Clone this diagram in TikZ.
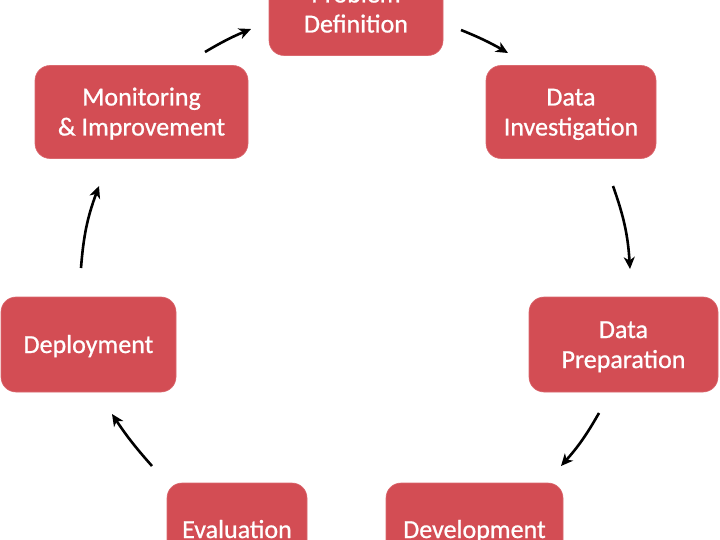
\documentclass[tikz,border=0pt]{standalone}
\usepackage{fontspec}
\setmainfont{Carlito}[FakeBold=0.8]
\usetikzlibrary{arrows.meta}
\definecolor{boxred}{RGB}{211,77,84}
\newcommand{\boxtext}[1]{\raisebox{-2.5pt}[\height][\depth]{\begin{tabular}{@{}c@{}}#1\end{tabular}}}
\tikzset{
  stepbox/.style={fill=boxred, draw=boxred!85!white, line width=0.6pt, rounded corners=15pt, inner sep=0pt,
    text=white, align=center, font=\fontsize{26}{30}\selectfont},
  cyclearrow/.style={-{Stealth[length=12pt,width=11pt,inset=3.5pt]}, line width=2.6pt, black},
}
\begin{document}
\begin{tikzpicture}[x=1pt,y=-1pt]
\useasboundingbox (0,0) rectangle (720,540);
\node[stepbox, minimum width=174pt, minimum height=93pt] (pd) at (356,9) {\boxtext{Problem\\Definition}};
\node[stepbox, minimum width=170pt, minimum height=93pt] (di) at (571,112) {\boxtext{Data\\Investigation}};
\node[stepbox, minimum width=189pt, minimum height=95pt] (dp) at (623.5,344.5) {\boxtext{Data\\Preparation}};
\node[stepbox, minimum width=177pt, minimum height=93pt] (dev) at (474.5,529.5) {\boxtext{Development}};
\node[stepbox, minimum width=140pt, minimum height=93pt] (ev) at (237,529.5) {\boxtext{Evaluation}};
\node[stepbox, minimum width=175pt, minimum height=95pt] (dep) at (88.5,344.5) {\boxtext{Deployment}};
\node[stepbox, minimum width=213pt, minimum height=93pt] (mon) at (141.5,112) {\boxtext{Monitoring\\\& Improvement}};
% arrow end points
\coordinate (a1s) at (205,52); \coordinate (a1e) at (251,29);
\coordinate (a2s) at (461,30); \coordinate (a2e) at (508,53);
\coordinate (a3s) at (613,186); \coordinate (a3e) at (630,269);
\coordinate (a4s) at (599,413); \coordinate (a4e) at (561,466);
\coordinate (a5s) at (152,466); \coordinate (a5e) at (112,414);
\coordinate (a6s) at (81,268); \coordinate (a6e) at (99,186);
\draw[cyclearrow] (a1s) to[bend left=4] (a1e);
\draw[cyclearrow] (a2s) to[bend left=4] (a2e);
\draw[cyclearrow] (a3s) to[bend left=8] (a3e);
\draw[cyclearrow] (a4s) to[bend left=6] (a4e);
\draw[cyclearrow] (a5s) to[bend left=4] (a5e);
\draw[cyclearrow] (a6s) to[bend left=8] (a6e);
\end{tikzpicture}
\end{document}
